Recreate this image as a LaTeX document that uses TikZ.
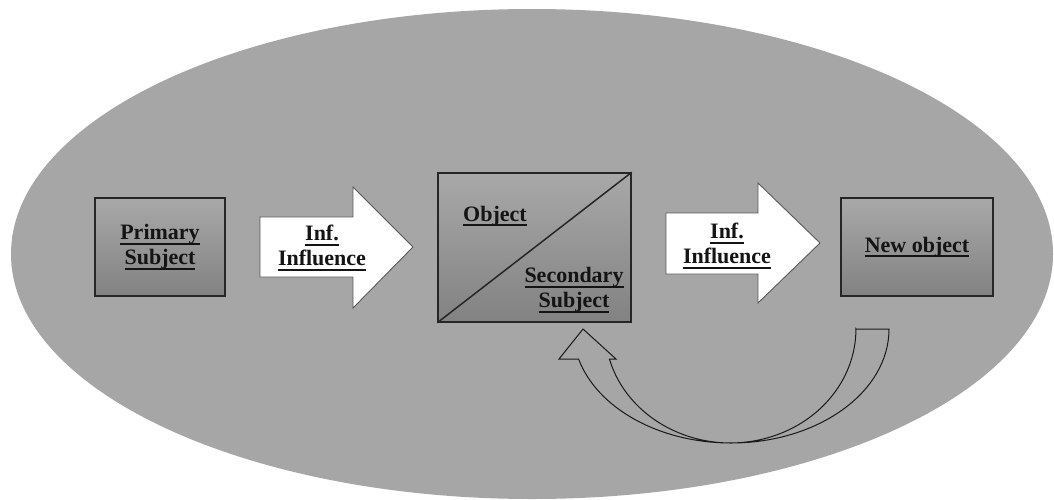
\documentclass[tikz,border=0pt]{standalone}
\usepackage{fontspec}
\setmainfont{Liberation Serif}
\usepackage{tikz}
\usetikzlibrary{calc}

% underline a word
\newcommand{\ulword}[1]{\setbox0\hbox{#1}\rlap{\vrule height -3.4pt depth 5.1pt width \wd0}\box0}

\tikzset{
    box/.style={draw=black!85, line width=1.5pt, top color=black!34, bottom color=black!49},
    txt/.style={align=center, inner sep=0pt, text=black!92,
        font=\fontsize{22}{25}\selectfont\bfseries},
    blockarrow/.style={fill=white, draw=black!65, line width=0.9pt, line join=miter},
    backarrow/.style={draw=black!90, line width=1pt}
}

\begin{document}
\begin{tikzpicture}[x=1pt,y=-1pt]
        \useasboundingbox (0,0) rectangle (1054,499);
        \fill[black!35] (532,254) ellipse [x radius=521, y radius=245];

        % left box
        \node[box, minimum width=130pt, minimum height=98pt] (primary) at (160,247) {};
        \node[txt] (primarytxt) at (primary.center) {\ulword{Primary}\\\ulword{Subject}};

        % first arrow
        \draw[blockarrow] (260,217) -- (353,217) -- (353,187) -- (413,247)
            -- (353,308) -- (353,277) -- (260,277) -- cycle;
        \node[txt] (inf1) at (322,248) {\ulword{Inf.}\\\ulword{Influence}};

        % middle box
        \node[box, minimum width=193pt, minimum height=149pt] (mid) at (534.5,247.5) {};
        \draw[line width=1.5pt, black!85] (mid.south west) -- (mid.north east);
        \node[txt] (object) at (495,216) {\ulword{Object}};
        \node[txt] (secondary) at (574,290) {\ulword{Secondary}\\\ulword{Subject}};

        % second arrow
        \draw[blockarrow] (666,213) -- (758,213) -- (758,183) -- (820,243)
            -- (758,303) -- (758,274) -- (666,274) -- cycle;
        \node[txt] (inf2) at (727,246) {\ulword{Inf.}\\\ulword{Influence}};

        % right box
        \node[box, minimum width=152pt, minimum height=98pt] (newobj) at (917,247) {};
        \node[txt] (newobjtxt) at (newobj.center) {\ulword{New object}};

        % curved arrow back
        \draw[backarrow] (856,329) -- (889,329)
            arc[start angle=0, end angle=164.7, x radius=158, y radius=114]
            -- (559,359) -- (583,329) -- (616,359) -- (609.4,359)
            arc[start angle=164.7, end angle=0, x radius=125.5, y radius=114] -- cycle;
\end{tikzpicture}
\end{document}
